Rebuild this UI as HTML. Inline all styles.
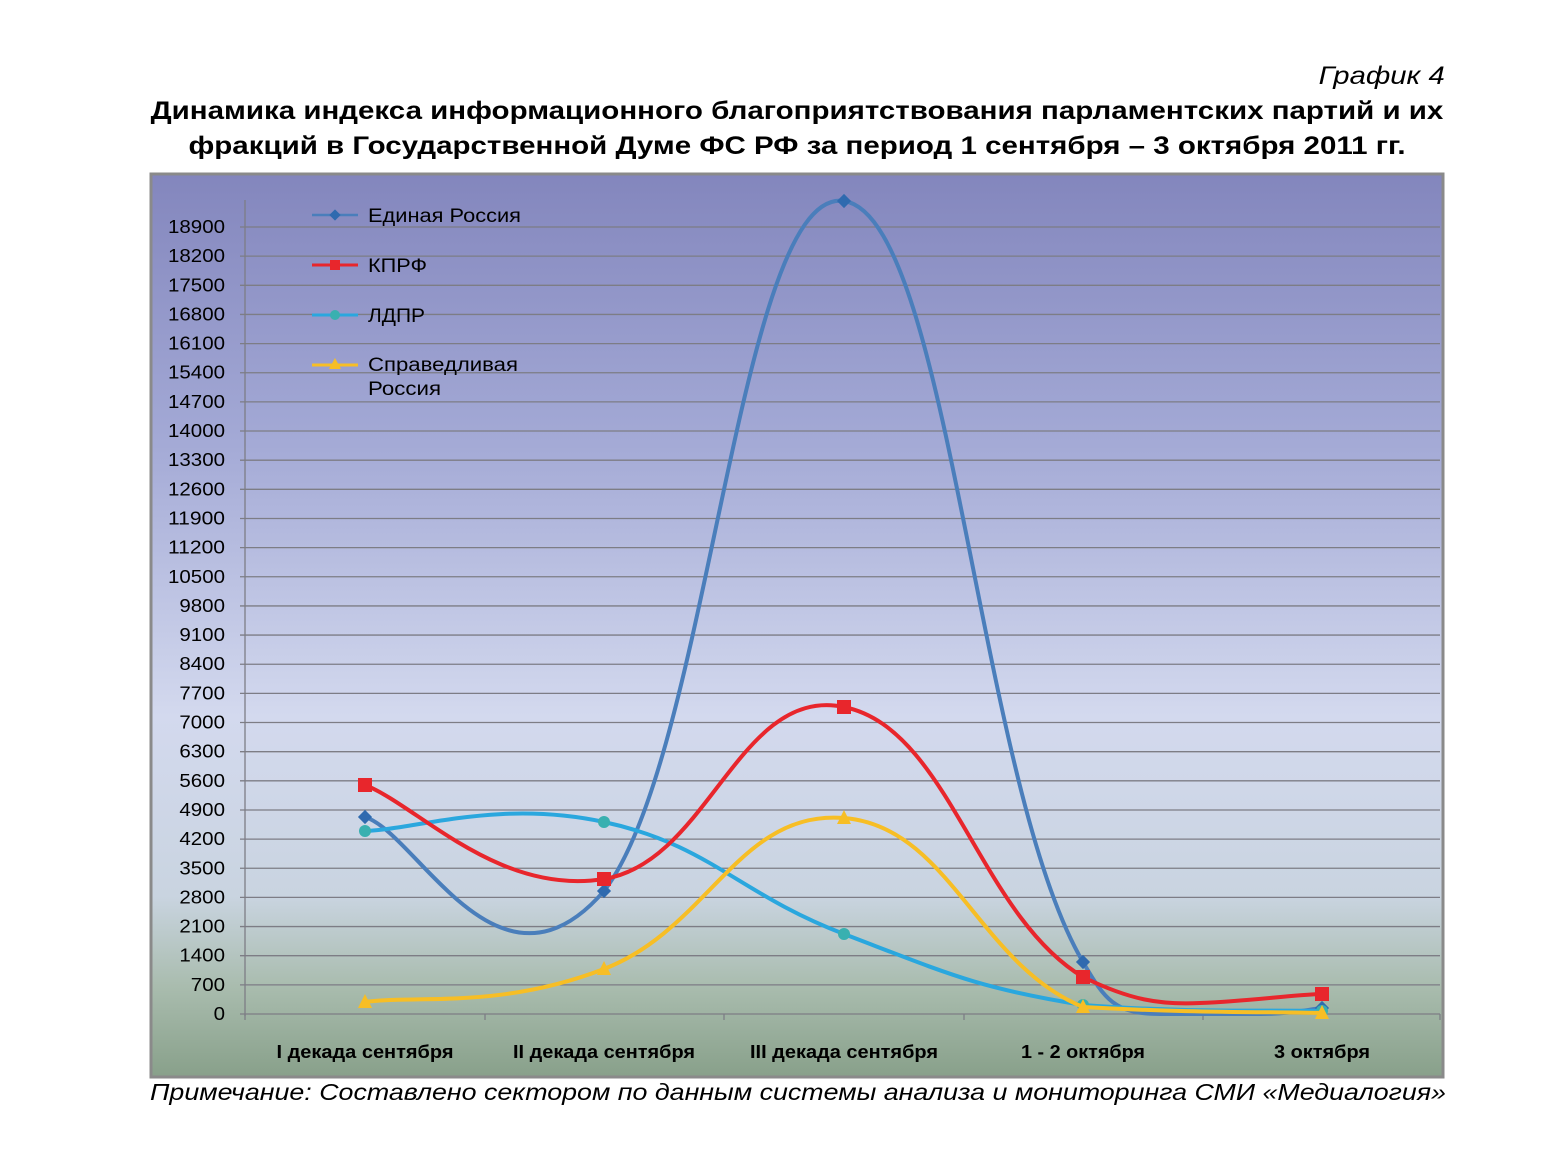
<!DOCTYPE html>
<html><head><meta charset="utf-8"><style>
html,body{margin:0;padding:0;background:#fff;}
body{width:1557px;height:1154px;position:relative;overflow:hidden;font-family:"Liberation Sans",sans-serif;}
.t{position:absolute;white-space:nowrap;color:#000;}
</style></head><body>
<div class="t" style="right:112px;top:62px;font-size:25px;font-style:italic;transform:scaleX(1.17);transform-origin:right top;">График 4</div>
<div class="t" style="left:0;width:1594px;text-align:center;top:94px;font-size:25px;font-weight:bold;line-height:35px;transform:scaleX(1.18);transform-origin:797px 0;">Динамика индекса информационного благоприятствования парламентских партий и их<br>фракций в Государственной Думе ФС РФ за период 1 сентября – 3 октября 2011 гг.</div>
<svg width="1557" height="1154" style="position:absolute;left:0;top:0" xmlns="http://www.w3.org/2000/svg">
<defs><linearGradient id="bg" x1="0" y1="0" x2="0" y2="1">
<stop offset="0" stop-color="#8386bd"/><stop offset="0.3" stop-color="#a4aad6"/>
<stop offset="0.6" stop-color="#d3d9ee"/><stop offset="0.8" stop-color="#c9d4e0"/>
<stop offset="0.9" stop-color="#a9bcae"/><stop offset="1" stop-color="#88a08a"/></linearGradient></defs>
<rect x="151" y="174" width="1292" height="903" fill="url(#bg)" stroke="#8a8a8a" stroke-width="3"/>
<g id="grid" stroke="#7d7d85" stroke-width="1.3"></g>
<line x1="245" y1="200" x2="245" y2="1016" stroke="#7d7d85" stroke-width="1.3"/>
<g id="ylab" font-family="Liberation Sans" font-size="18" text-anchor="end" fill="#000"></g>
<g font-family="Liberation Sans" font-size="18" font-weight="bold" text-anchor="middle" fill="#000">
<text x="365" y="1058" textLength="177" lengthAdjust="spacingAndGlyphs">I декада сентября</text>
<text x="604" y="1058" textLength="182" lengthAdjust="spacingAndGlyphs">II декада сентября</text>
<text x="844" y="1058" textLength="188" lengthAdjust="spacingAndGlyphs">III декада сентября</text>
<text x="1083" y="1058" textLength="124" lengthAdjust="spacingAndGlyphs">1 - 2 октября</text>
<text x="1322" y="1058" textLength="96" lengthAdjust="spacingAndGlyphs">3 октября</text></g>
<g id="series"></g>
<g font-family="Liberation Sans" font-size="19" fill="#000">
<line x1="312" y1="215" x2="358" y2="215" stroke="#4a7ebb" stroke-width="2.5"/><rect x="331" y="211" width="8" height="8" fill="#2f6aaf" transform="rotate(45 335 215)"/>
<text x="368" y="222" textLength="153" lengthAdjust="spacingAndGlyphs">Единая Россия</text>
<line x1="312" y1="265" x2="358" y2="265" stroke="#e8262c" stroke-width="3"/><rect x="330" y="260" width="10" height="10" fill="#e8262c"/>
<text x="368" y="272" textLength="59" lengthAdjust="spacingAndGlyphs">КПРФ</text>
<line x1="312" y1="315" x2="358" y2="315" stroke="#2aa7de" stroke-width="3"/><circle cx="335" cy="315" r="5" fill="#39b0b0"/>
<text x="368" y="322" textLength="57" lengthAdjust="spacingAndGlyphs">ЛДПР</text>
<line x1="312" y1="365" x2="358" y2="365" stroke="#f7be25" stroke-width="3"/><polygon points="335,358 341,369 329,369" fill="#f7be25"/>
<text x="368" y="371" textLength="150" lengthAdjust="spacingAndGlyphs">Справедливая</text><text x="368" y="395" textLength="73" lengthAdjust="spacingAndGlyphs">Россия</text>
</g>
</svg>
<div class="t" style="left:150px;top:1079px;font-size:23px;font-style:italic;transform:scaleX(1.165);transform-origin:0 0;">Примечание: Составлено сектором по данным системы анализа и мониторинга СМИ «Медиалогия»</div>
<script>
var ns="http://www.w3.org/2000/svg";
function el(t,a,p){var e=document.createElementNS(ns,t);for(var k in a)e.setAttribute(k,a[k]);p.appendChild(e);return e;}
var g=document.getElementById('grid'),yl=document.getElementById('ylab');
function Y(v){return 1014-v*(787/18900);}
for(var v=0;v<=18900;v+=700){var y=Y(v);el('line',{x1:240,y1:y,x2:1440,y2:y},g);var s0=String(v);var t=el('text',{x:225,y:y+6,textLength:s0.length*11.4,lengthAdjust:'spacingAndGlyphs'},yl);t.textContent=s0;}
[245,485,724,964,1203,1440].forEach(function(x){el('line',{x1:x,y1:1014,x2:x,y2:1020},g);});
var s=document.getElementById('series');
function path(P,k,last){var d='M'+P[0][0]+','+P[0][1];for(var i=0;i<P.length-1;i++){var a=P[i-1]||P[i],b=P[i],c=P[i+1],e=P[i+2]||P[i+1];
if(last&&i==P.length-2){d+=' '+last;continue;}
var y1=Math.min(b[1]+(c[1]-a[1])*k,1013),y2=Math.min(c[1]-(e[1]-b[1])*k,1013);
d+=' C'+(b[0]+(c[0]-a[0])*k)+','+y1+' '+(c[0]-(e[0]-b[0])*k)+','+y2+' '+c[0]+','+c[1];}return d;}
var X=[365,604,844,1083,1322];
var S=[
 {c:'#4a7ebb',w:4,p:[817,891,201,962,1008],m:'d',mc:'#2f6aaf',last:'C1105,1000 1115,1014 1160,1014 L1260,1014 C1290,1014 1305,1010 1322,1008'},
 {c:'#2aa7de',w:4,p:[831,822,934,1005,1011],m:'c',mc:'#39b0b0'},
 {c:'#f7be25',w:4,p:[1002,969,818,1007,1013],m:'t',mc:'#f7be25'},
 {c:'#e8262c',w:4,p:[785,879,707,977,994],m:'s',mc:'#e8262c',last:'C1130,1000 1160,1005 1200,1003 C1250,1001 1290,995 1322,994'}];
S.forEach(function(o){var P=X.map(function(x,i){return [x,o.p[i]];});
el('path',{d:path(P,0.22,o.last),fill:'none',stroke:o.c,'stroke-width':o.w},s);
P.forEach(function(p){var x=p[0],y=p[1];
if(o.m=='d')el('rect',{x:x-5,y:y-5,width:10,height:10,fill:o.mc,transform:'rotate(45 '+x+' '+y+')'},s);
else if(o.m=='s')el('rect',{x:x-7,y:y-7,width:14,height:14,fill:o.mc},s);
else if(o.m=='c')el('circle',{cx:x,cy:y,r:6,fill:o.mc},s);
else el('polygon',{points:(x)+','+(y-8)+' '+(x+7)+','+(y+6)+' '+(x-7)+','+(y+6),fill:o.mc},s);});});
</script>
</body></html>
